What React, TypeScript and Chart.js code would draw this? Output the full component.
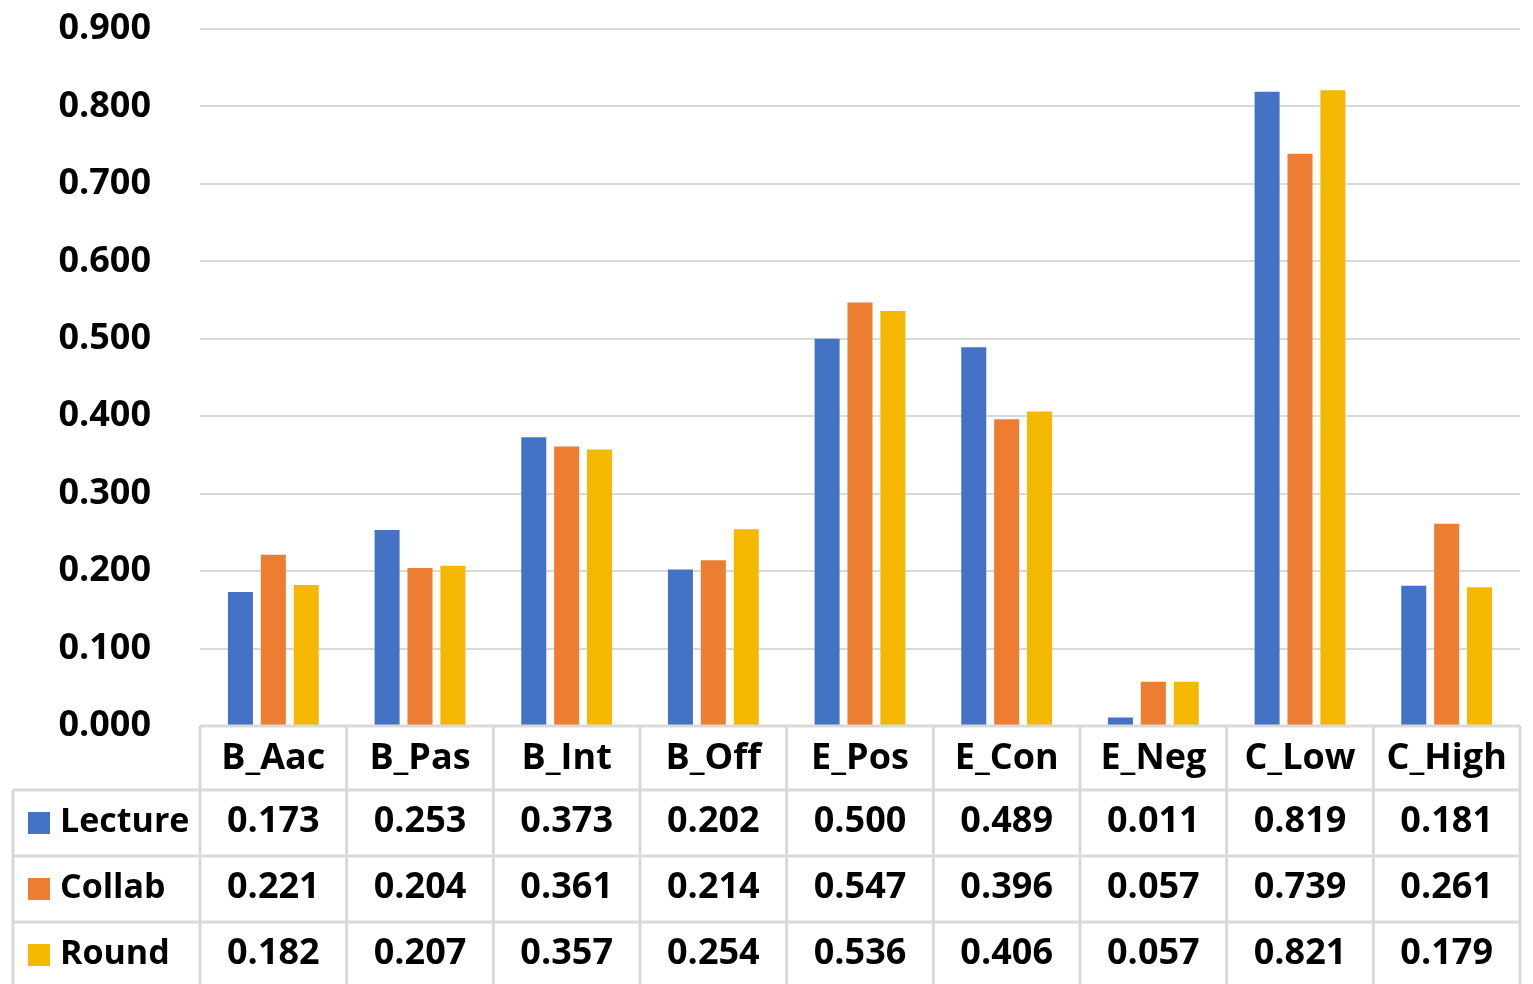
import React, { useEffect, useRef } from "react";
import { Chart, registerables } from "chart.js";

Chart.register(...registerables);

const categories = ["B_Aac", "B_Pas", "B_Int", "B_Off", "E_Pos", "E_Con", "E_Neg", "C_Low", "C_High"];
const seriesNames = ["Lecture", "Collab", "Round"];
const lecture = [0.173, 0.253, 0.373, 0.202, 0.5, 0.489, 0.011, 0.819, 0.181];
const collab = [0.221, 0.204, 0.361, 0.214, 0.547, 0.396, 0.057, 0.739, 0.261];
const round = [0.182, 0.207, 0.357, 0.254, 0.536, 0.406, 0.057, 0.821, 0.179];
const colors = ["#4472C4", "#ED7D31", "#F4B800"];

const FONT = 'bold 36px "Open Sans"';
const LEGEND_FONT = 'bold 34px "Open Sans"';
const GRID = "#d9d9d9";

const tablePlugin = {
  id: "dataTable",
  afterDraw(chart: any) {
    const ctx = chart.ctx;
    const x = chart.scales.x;
    const area = chart.chartArea;
    const H = chart.height;
    const half = (x.getPixelForValue(1) - x.getPixelForValue(0)) / 2;
    const left = x.getPixelForValue(0) - half;
    const right = x.getPixelForValue(categories.length - 1) + half;
    const top = area.bottom;
    const headerH = 64;
    const rowH = 66;
    const legendLeft = 13;
    const series = [lecture, collab, round];
    ctx.save();
    ctx.strokeStyle = GRID;
    ctx.lineWidth = 3;
    ctx.beginPath();
    ctx.moveTo(left, top);
    ctx.lineTo(right, top);
    for (let r = 0; r < 3; r++) {
      const y = top + headerH + r * rowH;
      ctx.moveTo(legendLeft, y);
      ctx.lineTo(right, y);
    }
    for (let i = 0; i <= categories.length; i++) {
      const xx = left + i * half * 2;
      ctx.moveTo(xx, top);
      ctx.lineTo(xx, H + 10);
    }
    ctx.moveTo(legendLeft, top + headerH);
    ctx.lineTo(legendLeft, H + 10);
    ctx.stroke();

    ctx.fillStyle = "#000";
    ctx.font = FONT;
    ctx.textAlign = "center";
    ctx.textBaseline = "middle";
    categories.forEach((c, i) => {
      ctx.fillText(c, x.getPixelForValue(i), top + headerH / 2 + 1);
    });
    series.forEach((vals, r) => {
      const cy = top + headerH + r * rowH + rowH / 2 - 1;
      ctx.font = FONT;
      vals.forEach((v, i) => {
        ctx.fillStyle = "#000";
        ctx.fillText(v.toFixed(3), x.getPixelForValue(i), cy);
      });
      ctx.fillStyle = colors[r];
      ctx.fillRect(28, cy - 10, 22, 22);
      ctx.fillStyle = "#000";
      ctx.textAlign = "left";
      ctx.font = LEGEND_FONT;
      ctx.fillText(seriesNames[r], 60, cy);
      ctx.textAlign = "center";
    });
    ctx.restore();
  },
};

export default function App() {
  const ref = useRef<HTMLCanvasElement | null>(null);
  useEffect(() => {
    document.body.style.margin = "0";
    const chart = new Chart(ref.current as HTMLCanvasElement, {
      type: "bar",
      data: {
        labels: categories,
        datasets: [
          { label: seriesNames[0], data: lecture, backgroundColor: colors[0] },
          { label: seriesNames[1], data: collab, backgroundColor: colors[1] },
          { label: seriesNames[2], data: round, backgroundColor: colors[2] },
        ],
      },
      options: {
        animation: false,
        responsive: false,
        maintainAspectRatio: false,
        datasets: { bar: { categoryPercentage: 0.673, barPercentage: 0.76 } },
        layout: { padding: { top: 29, bottom: 258, right: 13, left: 0 } },
        plugins: { legend: { display: false }, tooltip: { enabled: false } },
        scales: {
          x: { display: false },
          y: {
            min: 0,
            max: 0.9,
            border: { display: false },
            grid: { color: GRID, lineWidth: 2, drawTicks: false },
            ticks: {
              stepSize: 0.1,
              padding: 49,
              color: "#000",
              font: { family: "Open Sans", size: 36, weight: "bold" },
              callback: (v: any) => Number(v).toFixed(3),
            },
            afterFit: (s: any) => {
              s.width = 200;
              s.paddingTop = 0;
              s.paddingBottom = 0;
            },
          },
        },
      },
      plugins: [tablePlugin],
    });
    return () => chart.destroy();
  }, []);
  return (
    <div style={{ position: "absolute", left: 0, top: 0, width: 1533, height: 984, background: "#fff" }}>
      <canvas ref={ref} width={1533} height={984} style={{ display: "block" }} />
    </div>
  );
}
